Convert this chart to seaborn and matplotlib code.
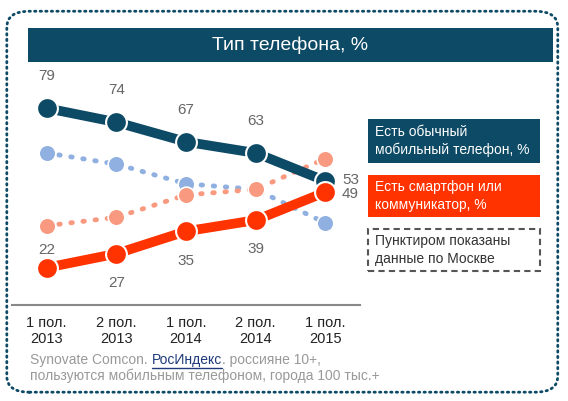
import matplotlib
matplotlib.use("Agg")
import matplotlib.pyplot as plt
import seaborn as sns
import pandas as pd
from matplotlib.patches import FancyBboxPatch, Rectangle

periods = ["1 пол.\n2013", "2 пол.\n2013", "1 пол.\n2014", "2 пол.\n2014", "1 пол.\n2015"]
regular = [79, 74, 67, 63, 53]
smart = [22, 27, 35, 39, 49]
moscow_regular = [63, 59, 52, 50, 38]
moscow_smart = [37, 40, 48, 50, 61]

DARK = "#0d4a66"
RED = "#ff3300"
LBLUE = "#8fb0e0"
SALMON = "#f99a80"
GRAY = "#666666"

sns.set_style("white")
plt.rcParams["font.family"] = ["Liberation Sans", "DejaVu Sans"]

fig = plt.figure(figsize=(5.68, 4.01), dpi=100)
ax = fig.add_axes([0.021, 0.239, 0.613, 0.586])
x = list(range(len(periods)))
df = pd.DataFrame({"x": x, "reg": regular, "sm": smart, "mr": moscow_regular, "ms": moscow_smart})

for col, c in [("mr", LBLUE), ("ms", SALMON)]:
    sns.lineplot(data=df, x="x", y=col, ax=ax, color=c, lw=3.5, linestyle=(0, (0.3, 2.2)),
                 dash_capstyle="round", marker="o", markersize=12, markeredgecolor="white",
                 markeredgewidth=1.2)
for col, c in [("reg", DARK), ("sm", RED)]:
    sns.lineplot(data=df, x="x", y=col, ax=ax, color=c, lw=7, marker="o", markersize=15,
                 markeredgecolor="white", markeredgewidth=1.5, solid_capstyle="round")

for i, v in enumerate(regular):
    if i < 4:
        ax.annotate(str(v), (i, v), xytext=(0, 18), textcoords="offset points", ha="center",
                    va="bottom", color=GRAY, fontsize=11)
    else:
        ax.annotate(str(v), (i, v), xytext=(12, 1), textcoords="offset points", ha="left",
                    va="center", color=GRAY, fontsize=11)
for i, v in enumerate(smart):
    if i == 0:
        ax.annotate(str(v), (i, v), xytext=(0, 8), textcoords="offset points", ha="center",
                    va="bottom", color=GRAY, fontsize=11)
    elif i < 4:
        ax.annotate(str(v), (i, v), xytext=(0, -16), textcoords="offset points", ha="center",
                    va="top", color=GRAY, fontsize=11)
    else:
        ax.annotate(str(v), (i, v), xytext=(12, -1), textcoords="offset points", ha="left",
                    va="center", color=GRAY, fontsize=11)

ax.set_xlim(-0.5, 4.5)
ax.set_ylim(8.6, 92.6)
ax.set_xticks([i + 0.5 for i in range(4)])
ax.set_xticks(x, minor=True)
ax.set_xticklabels([])
ax.set_xticklabels(periods, minor=True, fontsize=10.5, color="#222222")
ax.tick_params(axis="x", which="major", length=6, color="#888888", direction="out")
ax.tick_params(axis="x", which="minor", length=0, pad=8)
ax.set_yticks([])
ax.set_xlabel("")
ax.set_ylabel("")
for s in ["top", "left", "right"]:
    ax.spines[s].set_visible(False)
ax.spines["bottom"].set_color("#888888")
ax.spines["bottom"].set_linewidth(1.5)

# outer dotted border
fig.patches.append(FancyBboxPatch((0.012, 0.022), 0.97, 0.95, boxstyle="round,pad=0,rounding_size=0.04",
                                  transform=fig.transFigure, fill=False, edgecolor=DARK,
                                  lw=2, linestyle=(0, (0.5, 1.5)), capstyle="round"))
# title bar
fig.patches.append(Rectangle((0.049, 0.845), 0.925, 0.085, transform=fig.transFigure,
                             facecolor=DARK, edgecolor="none"))
fig.text(0.511, 0.887, "Тип телефона, %", ha="center", va="center", color="white",
         fontsize=14)

# legend boxes
W = 568.0
H = 401.0
def box(x0, y0, w, h, **kw):
    fig.patches.append(Rectangle((x0 / W, 1 - (y0 + h) / H), w / W, h / H,
                                 transform=fig.transFigure, **kw))
box(368, 119, 172, 44, facecolor=DARK, edgecolor="none")
fig.text(375 / W, 1 - 141 / H, "Есть обычный\nмобильный телефон, %", color="white",
         fontsize=10, va="center", ha="left", linespacing=1.3)
box(368, 175, 172, 42, facecolor=RED, edgecolor="none")
fig.text(375 / W, 1 - 196 / H, "Есть смартфон или\nкоммуникатор, %", color="white",
         fontsize=10, va="center", ha="left", linespacing=1.3)
box(368, 229, 172, 42, facecolor="white", edgecolor="#555555", lw=1.5, linestyle=(0, (3, 2)))
fig.text(375 / W, 1 - 250 / H, "Пунктиром показаны\nданные по Москве", color="#333333",
         fontsize=10, va="center", ha="left", linespacing=1.3)

# source
fig.canvas.draw()
r = fig.canvas.get_renderer()
t1 = fig.text(30 / W, 1 - 360 / H, "Synovate Comcon. ", color="#999999", fontsize=10, va="center")
bb = t1.get_window_extent(r)
t2 = fig.text(bb.x1 / (W), 1 - 360 / H, "РосИндекс", color="#1f3a7a", fontsize=10, va="center")
bb2 = t2.get_window_extent(r)
fig.add_artist(plt.Line2D([bb2.x0 / W, bb2.x1 / W], [(bb2.y0 - 1) / H] * 2, color="#1f3a7a", lw=1,
                          transform=fig.transFigure))
fig.text(bb2.x1 / W, 1 - 360 / H, ". россияне 10+,", color="#999999", fontsize=10, va="center")
fig.text(30 / W, 1 - 376 / H, "пользуются мобильным телефоном, города 100 тыс.+", color="#999999",
         fontsize=10, va="center")

fig.savefig("out.png", dpi=100)
